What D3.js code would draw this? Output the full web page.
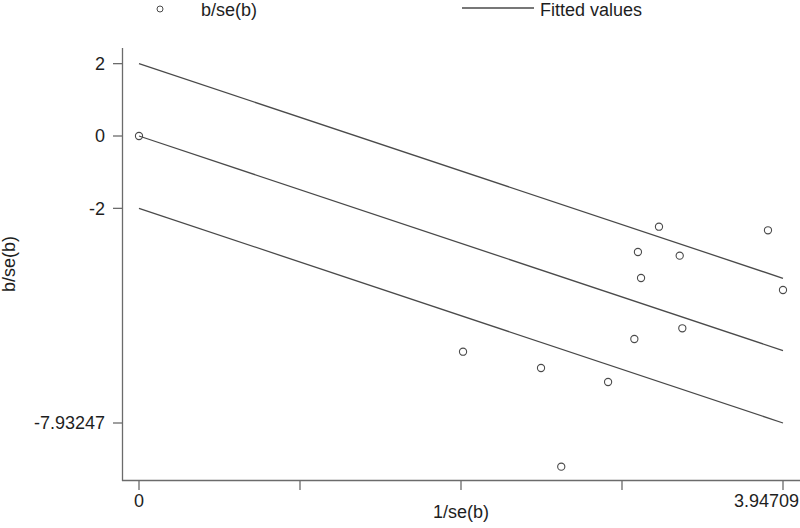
<!DOCTYPE html>
<html>
<head>
<meta charset="utf-8">
<script src="https://cdn.jsdelivr.net/npm/d3@7"></script>
<style>
  body { margin: 0; background: #fff; }
  svg { display: block; font-family: "Liberation Sans", Arial, sans-serif; }
</style>
</head>
<body>
<script>
// Galbraith plot: precision vs standardised effect
var precision = [0, 3.187, 3.855, 3.058, 3.314, 3.077, 3.947, 3.330, 3.036, 1.986, 2.464, 2.875, 2.588];
var zScore    = [0, -2.507, -2.606, -3.206, -3.308, -3.925, -4.257, -5.315, -5.611, -5.962, -6.412, -6.799, -9.140];

// fitted line endpoints and the +/-2 band offsets
var fitX = [0, 3.94709];
var fitY = [0, -5.93247];
var bandOffsets = [2, 0, -2];

var xTicks = [0, 0.98677, 1.97355, 2.96032, 3.94709];
var xTickLabels = ["0", "", "", "", "3.94709"];
var yTicks = [2, 0, -2, -7.93247];
var yTickLabels = ["2", "0", "-2", "-7.93247"];

var width = 800, height = 528;
var axisCol = "#6b6b6b", markCol = "#4a4a4a", textCol = "#1e1e1e";

var x = d3.scaleLinear().domain([0, 3.94709]).range([139, 783]);
var y = d3.scaleLinear().domain([0, -7.93247]).range([136, 423]);

var svg = d3.select("body").append("svg")
  .attr("width", width)
  .attr("height", height);

// legend
svg.append("circle")
  .attr("cx", 160).attr("cy", 9).attr("r", 3)
  .attr("fill", "none").attr("stroke", markCol).attr("stroke-width", 1);
svg.append("text")
  .attr("x", 201).attr("y", 16)
  .attr("font-size", 18).attr("fill", textCol)
  .text("b/se(b)");
svg.append("line")
  .attr("x1", 462).attr("x2", 534).attr("y1", 8).attr("y2", 8)
  .attr("stroke", markCol).attr("stroke-width", 1.3);
svg.append("text")
  .attr("x", 540).attr("y", 16)
  .attr("font-size", 18).attr("fill", textCol)
  .text("Fitted values");

// axes lines
svg.append("line")
  .attr("x1", 122.5).attr("x2", 122.5).attr("y1", 48).attr("y2", 481)
  .attr("stroke", axisCol).attr("stroke-width", 1.3);
svg.append("line")
  .attr("x1", 122).attr("x2", 800).attr("y1", 480.5).attr("y2", 480.5)
  .attr("stroke", axisCol).attr("stroke-width", 1.3);

// y axis ticks
var yAxis = svg.append("g");
yAxis.selectAll("line").data(yTicks).enter().append("line")
  .attr("x1", 113).attr("x2", 122)
  .attr("y1", function(d) { return y(d); })
  .attr("y2", function(d) { return y(d); })
  .attr("stroke", axisCol).attr("stroke-width", 1.3);
yAxis.selectAll("text").data(yTicks).enter().append("text")
  .attr("x", 105)
  .attr("y", function(d) { return y(d); })
  .attr("dy", "0.35em")
  .attr("text-anchor", "end")
  .attr("font-size", 18).attr("fill", textCol)
  .text(function(d, i) { return yTickLabels[i]; });

// x axis ticks
var xAxis = svg.append("g");
xAxis.selectAll("line").data(xTicks).enter().append("line")
  .attr("x1", function(d) { return x(d); })
  .attr("x2", function(d) { return x(d); })
  .attr("y1", 481).attr("y2", 490)
  .attr("stroke", axisCol).attr("stroke-width", 1.3);
xAxis.selectAll("text").data(xTicks).enter().append("text")
  .attr("x", function(d, i) { return i === xTicks.length - 1 ? 799 : x(d); })
  .attr("y", 507)
  .attr("text-anchor", function(d, i) { return i === xTicks.length - 1 ? "end" : "middle"; })
  .attr("font-size", 18).attr("fill", textCol)
  .text(function(d, i) { return xTickLabels[i]; });

// axis titles
svg.append("text")
  .attr("x", 461).attr("y", 518)
  .attr("text-anchor", "middle")
  .attr("font-size", 18).attr("fill", textCol)
  .text("1/se(b)");
svg.append("text")
  .attr("transform", "translate(15,264) rotate(-90)")
  .attr("text-anchor", "middle")
  .attr("font-size", 18).attr("fill", textCol)
  .text("b/se(b)");

// fitted lines (centre and +/-2 bands)
var line = d3.line()
  .x(function(d) { return x(d[0]); })
  .y(function(d) { return y(d[1]); });

svg.selectAll("path.fit").data(bandOffsets).enter().append("path")
  .attr("class", "fit")
  .attr("d", function(off) {
    return line(fitX.map(function(v, i) { return [v, fitY[i] + off]; }));
  })
  .attr("fill", "none")
  .attr("stroke", markCol)
  .attr("stroke-width", 1.3);

// points
svg.selectAll("circle.pt").data(precision).enter().append("circle")
  .attr("class", "pt")
  .attr("cx", function(d) { return x(d); })
  .attr("cy", function(d, i) { return y(zScore[i]); })
  .attr("r", 3.6)
  .attr("fill", "none")
  .attr("stroke", markCol)
  .attr("stroke-width", 1.1);
</script>
</body>
</html>
